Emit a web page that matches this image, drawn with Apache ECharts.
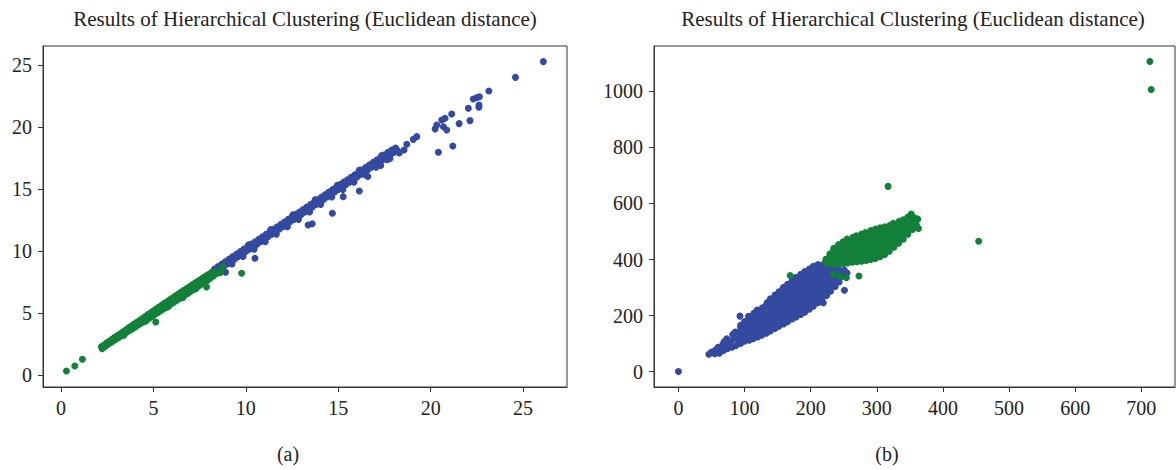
<!DOCTYPE html>
<html>
<head>
<meta charset="utf-8">
<title>Results of Hierarchical Clustering</title>
<script src="https://cdn.jsdelivr.net/npm/echarts@6/dist/echarts.min.js"></script>
<style>
  html, body { margin: 0; padding: 0; background: #ffffff; }
  #chart { width: 1176px; height: 470px; }
</style>
</head>
<body>
<div id="chart"></div>
<script>
// ---------- panel (a) ----------
const ticksAx = [0, 5, 10, 15, 20, 25];
const ticksAy = [0, 5, 10, 15, 20, 25];

const clusterA_green = [
  [0.29,0.32],[0.74,0.73],[1.15,1.27],
  [2.18,2.28],[2.22,2.12],[2.3,2.4],[2.38,2.3],[2.45,2.58],[2.52,2.45],[2.6,2.72],[2.68,2.6],
  [2.75,2.88],[2.82,2.74],[2.9,3.03],[2.97,2.88],[3.05,3.18],[3.12,3.02],[3.2,3.33],[3.27,3.17],
  [3.35,3.48],[3.42,3.32],[3.5,3.63],[3.57,3.46],[3.65,3.8],[3.72,3.6],[3.8,3.95],[3.87,3.74],
  [3.95,4.1],[4.02,3.88],[4.1,4.25],[4.17,4.03],[4.25,4.4],[4.32,4.17],[4.4,4.55],[4.47,4.3],
  [4.55,4.72],[4.62,4.45],[4.7,4.87],[4.77,4.58],[4.85,5.02],[4.92,4.72],[5.0,5.18],[5.07,4.88],
  [5.15,5.33],[5.22,5.02],[5.3,5.48],[5.37,5.16],[5.45,5.63],[5.52,5.3],[5.6,5.78],[5.67,5.45],
  [5.75,5.93],[5.82,5.6],[5.9,6.08],[5.97,5.74],[6.05,6.23],[6.12,5.88],[6.2,6.38],[6.27,6.03],
  [6.35,6.53],[6.42,6.17],[6.5,6.68],[6.57,6.32],[6.65,6.83],[6.72,6.47],[6.8,6.97],[6.87,6.6],
  [6.95,7.12],[7.02,6.76],[7.1,7.27],[7.17,6.9],[7.25,7.42],[7.32,7.05],[7.4,7.56],[7.47,7.2],
  [7.55,7.7],[7.62,7.35],[7.7,7.85],[7.77,7.5],[7.85,8.0],[7.92,7.62],[8.0,8.12],[8.08,7.8],
  [8.15,8.28],[8.25,7.98],[8.35,8.3],[8.45,8.2],[8.6,8.3],[8.75,8.72],[8.6,8.24],
  [3.4,3.2],[4.6,4.35],[5.8,5.5],[6.6,6.25],[7.3,6.95],[7.6,7.62],
  [5.12,4.27],[7.87,7.1],[9.77,8.2]
];

const clusterA_blue = [
  [8.3,8.55],[8.4,8.35],[8.5,8.75],[8.6,8.55],[8.7,8.95],[8.8,8.75],[8.9,9.15],[9.0,8.95],
  [9.1,9.35],[9.2,9.15],[9.3,9.55],[9.4,9.35],[9.5,9.75],[9.6,9.55],[9.7,9.95],[9.8,9.75],
  [9.9,10.15],[10.0,9.95],[10.1,10.35],[10.2,10.15],[10.3,10.55],[10.4,10.35],[10.5,10.75],
  [10.6,10.55],[10.7,10.95],[10.8,10.75],[10.9,11.15],[11.0,10.95],[11.1,11.35],[11.2,11.15],
  [11.3,11.55],[11.4,11.35],[11.5,11.75],[11.6,11.55],[11.7,11.95],[11.8,11.75],[11.9,12.15],
  [12.0,11.95],[12.1,12.35],[12.2,12.15],[12.3,12.55],[12.4,12.35],[12.5,12.75],[12.6,12.55],
  [12.7,12.95],[12.8,12.75],[12.9,13.15],[13.0,12.95],[13.1,13.35],[13.2,13.15],[13.3,13.55],
  [13.4,13.35],[13.5,13.75],[13.6,13.55],[13.7,13.95],[13.8,13.75],[13.9,14.15],[14.0,13.95],
  [14.1,14.35],[14.2,14.15],[14.3,14.55],[14.4,14.35],[14.5,14.75],[14.6,14.55],[14.7,14.95],
  [14.8,14.75],[14.9,15.15],[15.0,14.95],[15.1,15.35],[15.2,15.15],[15.3,15.55],[15.4,15.35],
  [15.5,15.75],[15.6,15.55],[15.7,15.95],[15.8,15.75],[15.9,16.15],[16.0,15.95],[16.1,16.35],
  [16.2,16.15],[16.3,16.55],[16.4,16.35],[16.5,16.75],[16.6,16.55],[16.7,16.95],[16.8,16.75],
  [16.9,17.15],[17.0,16.95],[17.1,17.35],[17.2,17.15],[17.3,17.55],[17.4,17.35],[17.5,17.75],
  [17.6,17.55],[17.7,17.95],[17.8,17.75],[17.9,18.15],[18.0,17.95],[18.1,18.3],[18.2,18.1],
  [9.25,8.95],[9.85,9.55],[10.45,10.15],[11.05,10.75],[11.65,11.35],[12.25,11.95],[12.85,12.55],
  [13.45,13.15],[14.05,13.75],[14.65,14.35],[15.25,14.95],[15.85,15.55],[16.45,16.15],
  [17.05,16.75],[17.65,17.35],
  [10.15,10.5],[11.35,11.72],[12.55,12.92],[13.75,14.12],[14.95,15.3],[16.15,16.52],[17.35,17.7],
  [8.9,8.28],[10.49,9.41],[13.37,12.1],[13.59,12.2],[14.68,13.04],[15.27,14.38],[16.14,14.84],
  [16.6,16.0],[17.3,16.9],[17.8,17.45],[18.3,17.9],[18.56,18.15],[18.71,18.6],
  [19.06,19.0],[19.25,19.22],[20.24,19.84],[20.33,20.16],[20.6,20.56],[20.78,20.7],
  [20.69,20.02],[20.87,19.76],[20.42,17.96],[21.2,18.47],[21.14,21.05],[21.54,20.27],
  [22.13,20.51],[22.04,21.51],[22.61,21.59],[22.62,21.77],[22.31,22.26],[22.5,22.37],
  [22.64,22.44],[23.15,22.9],[24.59,24.0],[26.1,25.27]
];

// ---------- panel (b) ----------
const ticksBx = [0, 100, 200, 300, 400, 500, 600, 700];
const ticksBy = [0, 200, 400, 600, 800, 1000];

const clusterB_blue = [
  [0,0],[46,62],[50,70],[62,66],[66,82],
  [55,64],[56,77],[61,69],[60,87],[68,75],[67,97],[69,106],
  [74,82],[75,103],[73,117],[81,87],[80,110],[82,132],[87,93],[88,117],[86,141],
  [94,100],[93,123],[95,147],[94,165],[100,108],[101,131],[99,157],[100,179],
  [107,112],[106,137],[108,160],[107,184],[106,197],
  [113,117],[114,142],[112,167],[113,190],[114,208],
  [120,124],[119,148],[121,171],[120,196],[119,220],
  [126,130],[127,153],[125,178],[126,203],[127,228],
  [133,137],[132,160],[134,185],[133,208],[132,233],[134,246],
  [139,145],[140,170],[138,194],[139,219],[140,242],[139,260],
  [146,154],[145,179],[147,202],[146,226],[145,251],[146,273],
  [152,162],[153,186],[151,211],[152,234],[153,258],[152,285],
  [159,170],[158,194],[160,218],[159,243],[158,266],[160,290],[159,301],
  [165,178],[166,203],[164,226],[165,250],[166,275],[164,298],[165,312],
  [172,188],[171,211],[173,236],[172,259],[171,283],[173,308],[172,326],
  [178,195],[179,220],[177,243],[178,268],[179,291],[177,315],[178,337],
  [185,204],[184,228],[186,253],[185,276],[184,300],[186,325],[185,347],
  [191,212],[192,237],[190,260],[191,285],[192,308],[190,333],[191,357],
  [198,223],[197,247],[199,272],[198,295],[197,320],[199,343],[198,366],
  [204,233],[205,258],[203,281],[204,306],[205,329],[203,354],[204,376],
  [211,246],[210,270],[212,295],[211,318],[210,342],[212,367],[211,382],
  [217,258],[218,282],[216,307],[217,330],[218,355],[216,379],
  [224,272],[223,297],[225,320],[224,344],[223,368],[225,387],
  [230,287],[231,310],[229,335],[230,358],[231,381],
  [237,304],[236,328],[238,352],[237,375],
  [243,320],[244,345],[242,369],
  [250,340],[251,362],[255,352],
  // in-between points that fill the body of the cluster
  [95,111],[93,135],[94,156],[100,120],[99,144],[101,168],
  [107,124],[108,148],[106,172],[107,191],[113,130],[112,154],[114,178],[113,199],
  [120,136],[121,160],[119,183],[120,208],[126,141],[125,166],[127,190],[126,215],
  [133,148],[134,172],[132,196],[133,220],[134,240],
  [139,157],[138,182],[140,206],[139,230],[138,251],
  [146,166],[147,190],[145,214],[146,238],[147,262],
  [152,174],[151,198],[153,222],[152,246],[151,271],
  [159,182],[160,206],[158,230],[159,254],[160,278],[158,296],
  [165,190],[164,214],[166,238],[165,262],[164,286],[166,305],
  [172,199],[173,223],[171,247],[172,271],[173,295],[171,317],
  [178,207],[177,231],[179,255],[178,279],[177,303],[179,326],
  [185,216],[186,240],[184,264],[185,288],[186,312],[184,336],
  [191,224],[190,248],[192,272],[191,296],[190,320],[192,345],
  [198,235],[199,259],[197,283],[198,307],[199,331],[197,355],
  [204,245],[203,269],[205,293],[204,317],[203,341],[205,365],
  [211,258],[212,282],[210,306],[211,330],[212,354],[210,374],
  [217,270],[216,294],[218,318],[217,342],[216,367],
  [224,284],[225,308],[223,332],[224,356],[225,378],
  [230,298],[229,322],[231,346],[230,370],
  [237,316],[238,340],[236,364],[243,332],[242,357],
  [93,198],[219,246],[251,290]
];

const clusterB_green = [
  [222,390],[223,401],[228,385],[227,404],[229,420],
  [235,383],[236,406],[234,428],[235,440],
  [242,384],[241,408],[243,432],[242,453],
  [250,385],[249,396],[250,420],[248,444],[249,463],
  [256,388],[255,412],[257,436],[256,460],[255,473],
  [263,390],[264,410],[262,434],[263,458],[264,479],
  [270,392],[269,420],[271,445],[270,468],[269,485],
  [277,394],[278,410],[276,434],[277,458],[278,480],[277,491],
  [284,397],[283,422],[285,446],[284,470],[283,496],
  [291,400],[292,412],[290,436],[291,460],[292,484],[291,503],
  [298,404],[297,426],[299,450],[298,474],[297,496],[298,509],
  [305,410],[306,420],[304,444],[305,468],[306,492],[305,513],
  [312,418],[311,436],[313,460],[312,484],[311,508],[312,517],
  [319,430],[320,450],[318,474],[319,498],[320,522],
  [326,444],[325,466],[327,490],[326,514],[325,529],
  [333,458],[334,480],[332,504],[333,528],[334,536],
  [340,472],[339,494],[341,518],[340,542],
  [347,490],[348,512],[346,536],[347,552],
  [354,507],[353,528],[355,552],[360,522],[361,545],
  // in-between points that fill the body of the cluster
  [235,394],[236,417],[242,396],[243,420],[241,443],
  [249,408],[250,432],[248,452],[256,400],[257,424],[255,448],
  [263,422],[264,446],[262,468],[270,406],[271,432],[269,456],[270,476],
  [277,422],[276,446],[278,469],[284,410],[285,434],[283,458],[284,483],
  [291,424],[290,448],[292,472],[291,494],[298,415],[299,438],[297,462],[298,485],
  [305,432],[304,456],[306,480],[305,503],[312,427],[313,448],[311,472],[312,496],
  [319,440],[318,462],[320,486],[319,510],[326,455],[327,478],[325,502],[326,520],
  [333,469],[332,492],[334,516],[340,483],[341,506],[339,530],
  [347,501],[346,524],[348,544],[354,517],[355,540],
  [234,347],[244,341],[254,335],[273,341],[319,443],[336,475],
  [346,539],[352,562],[355,521],[362,544],[363,511],
  [169,343],[317,661],[454,465],[713,1107],[715,1007]
];

const titleText = 'Results of Hierarchical Clustering (Euclidean distance)';
const BLUE = '#3449a0';
const GREEN = '#128039';
const INK = '#222222';
const FONT = '"Liberation Serif", "DejaVu Serif", serif';

function axisCommon(ticks, min, max, gridIndex) {
  return {
    type: 'value',
    gridIndex: gridIndex,
    min: min,
    max: max,
    splitLine: { show: false },
    axisLine: { show: true, onZero: false, lineStyle: { color: '#333333', width: 1 } },
    axisTick: {
      show: true, inside: false, length: 5,
      customValues: ticks,
      lineStyle: { color: '#333333', width: 1 }
    },
    axisLabel: {
      show: true,
      customValues: ticks,
      formatter: function (v) { return String(v); },
      margin: 11,
      color: INK,
      fontSize: 20,
      fontFamily: FONT
    }
  };
}

const chart = echarts.init(document.getElementById('chart'), null, { renderer: 'svg' });

const pointStyle = (c) => ({ color: c, opacity: 1 });

chart.setOption({
  animation: false,
  backgroundColor: '#ffffff',
  grid: [
    { left: 43, top: 46, width: 524, height: 341, show: true, borderColor: '#333333', borderWidth: 1, backgroundColor: 'transparent' },
    { left: 654, top: 46, width: 521, height: 341, show: true, borderColor: '#333333', borderWidth: 1, backgroundColor: 'transparent' }
  ],
  xAxis: [
    axisCommon(ticksAx, -0.98, 27.38, 0),
    axisCommon(ticksBx, -37, 751, 1)
  ],
  yAxis: [
    axisCommon(ticksAy, -0.97, 26.53, 0),
    axisCommon(ticksBy, -55, 1162, 1)
  ],
  graphic: [
    { type: 'text', x: 305, y: 19, style: { text: titleText, align: 'center', verticalAlign: 'middle', fill: INK, fontSize: 21, fontFamily: FONT } },
    { type: 'text', x: 913, y: 19, style: { text: titleText, align: 'center', verticalAlign: 'middle', fill: INK, fontSize: 21, fontFamily: FONT } },
    { type: 'text', x: 288, y: 454, style: { text: '(a)', align: 'center', verticalAlign: 'middle', fill: INK, fontSize: 20, fontFamily: FONT } },
    { type: 'text', x: 887, y: 454, style: { text: '(b)', align: 'center', verticalAlign: 'middle', fill: INK, fontSize: 20, fontFamily: FONT } }
  ],
  series: [
    { type: 'scatter', xAxisIndex: 0, yAxisIndex: 0, data: clusterA_blue, symbolSize: 7, itemStyle: pointStyle(BLUE), silent: true },
    { type: 'scatter', xAxisIndex: 0, yAxisIndex: 0, data: clusterA_green, symbolSize: 7, itemStyle: pointStyle(GREEN), silent: true },
    { type: 'scatter', xAxisIndex: 1, yAxisIndex: 1, data: clusterB_blue, symbolSize: 7, itemStyle: pointStyle(BLUE), silent: true },
    { type: 'scatter', xAxisIndex: 1, yAxisIndex: 1, data: clusterB_green, symbolSize: 7, itemStyle: pointStyle(GREEN), silent: true }
  ]
});
</script>
</body>
</html>
